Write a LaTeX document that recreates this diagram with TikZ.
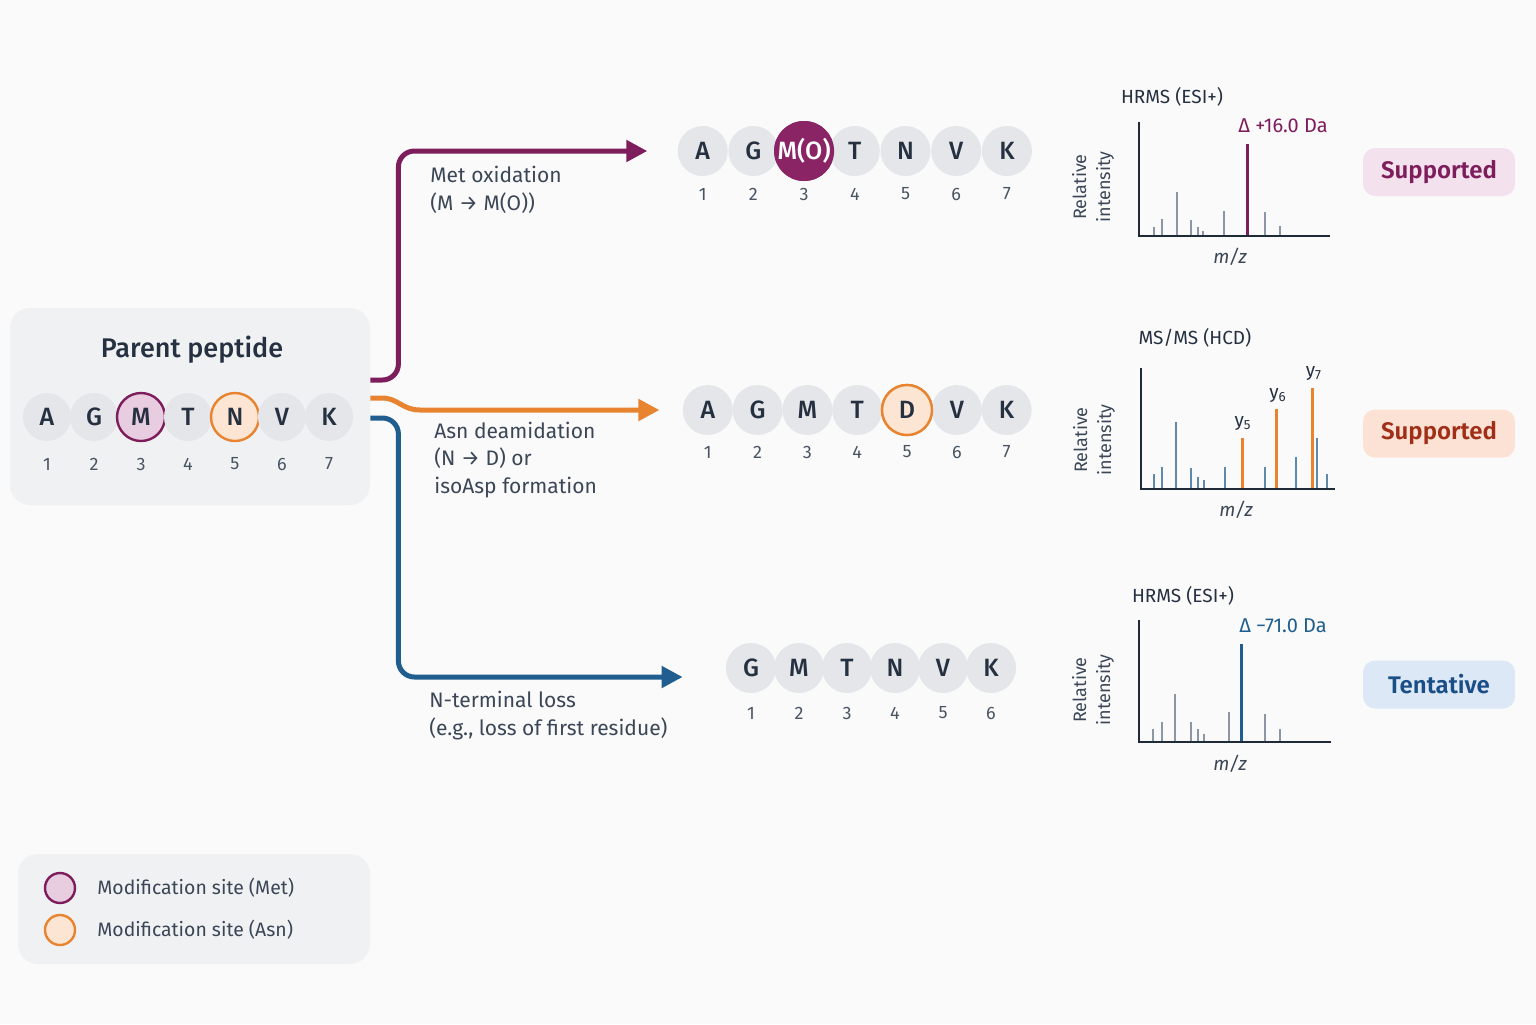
\documentclass[tikz,border=0pt]{standalone}
\usepackage{fontspec}
\setmainfont{Fira Sans}[BoldFont={Fira Sans SemiBold}]
\newfontfamily\medfont{Fira Sans Medium}
\usetikzlibrary{
    arrows.meta,
    calc,
    positioning
}

\definecolor{pagebg}{HTML}{FAFAFB}
\definecolor{panelbg}{HTML}{F0F1F3}
\definecolor{resfill}{HTML}{E4E6E9}
\definecolor{inkdark}{HTML}{253040}
\definecolor{inkgray}{HTML}{4A5563}
\definecolor{inklabel}{HTML}{3B4656}
\definecolor{metpurple}{HTML}{7E1D5B}
\definecolor{metfill}{HTML}{E8CDE0}
\definecolor{metdark}{HTML}{8A2465}
\definecolor{asnorange}{HTML}{E8842F}
\definecolor{asnfill}{HTML}{FDE5D3}
\definecolor{lossblue}{HTML}{1F5E8E}
\definecolor{peakgray}{HTML}{8B97A6}
\definecolor{peakblue}{HTML}{5F8AAB}
\definecolor{axisink}{HTML}{1E2A38}
\definecolor{supfillA}{HTML}{F3E2EE}
\definecolor{supfillB}{HTML}{FBE2D5}
\definecolor{suptextB}{HTML}{A12F17}
\definecolor{tentfill}{HTML}{DCE8F5}
\definecolor{tenttext}{HTML}{1A4E86}

\tikzset{
    panel/.style={fill=panelbg, rounded corners=10pt, inner sep=0pt},
    residue/.style={circle, fill=resfill, minimum size=25pt, inner sep=0pt,
        text=inkdark, font=\medfont\fontsize{12.5}{14}\selectfont},
    metsite/.style={residue, fill=metfill, draw=metpurple, line width=1.2pt},
    asnsite/.style={residue, fill=asnfill, draw=asnorange, line width=1.2pt},
    metdone/.style={residue, fill=metdark, text=white, minimum size=30pt},
    resnum/.style={text=inkgray, font=\fontsize{9}{10}\selectfont},
    steplabel/.style={anchor=west, align=left, inner sep=0pt, text=inklabel,
        font=\fontsize{10.5}{13.75}\selectfont},
    route/.style={line width=2.5pt, rounded corners=8pt,
        -{Triangle[length=10.5pt,width=10.5pt]}},
    spectitle/.style={text=inkdark, font=\fontsize{9.5}{11}\selectfont},
    ylab/.style={rotate=90, align=center, text=inklabel,
        font=\fontsize{9}{12}\selectfont},
    mzlab/.style={text=inklabel, font=\itshape\fontsize{9.5}{11}\selectfont},
    deltalab/.style={font=\fontsize{10}{12}\selectfont},
    ionlab/.style={text=inkdark, font=\fontsize{9.5}{11}\selectfont},
    specaxis/.style={draw=axisink, line width=1.2pt},
    peak/.style={line width=1pt},
    badge/.style={rounded corners=6pt, minimum width=76pt, minimum height=24pt,
        font=\bfseries\fontsize{12}{14}\selectfont}
}

\begin{document}
\begin{tikzpicture}[x=0.5pt, y=-0.5pt]
    % page
    \fill[pagebg] (0,0) rectangle (1536,1024);
    \useasboundingbox (0,0) rectangle (1536,1024);

    % parent peptide panel
    \node[panel, minimum width=180pt, minimum height=98.5pt] (parent) at (190,406.5) {};
    \node[text=inkdark, font=\medfont\fontsize{13.5}{16}\selectfont] (parentTitle) at (192,350) {Parent peptide};
    \foreach \aa/\st [count=\i] in {A/residue,G/residue,M/metsite,T/residue,N/asnsite,V/residue,K/residue} {
        \node[\st, minimum size=24pt] (p\i) at ({47*\i},417) {\aa};
        \node[resnum] (pn\i) at ($(p\i)+(0,47)$) {\i};
    }

    % oxidised product
    \foreach \aa [count=\i] in {A,G,M,T,N,V,K} {
        \ifnum\i=3\relax
            \node[metdone] (a\i) at ({652+50.7*\i},151) {M(O)};
        \else
            \node[residue] (a\i) at ({652+50.7*\i},151) {\aa};
        \fi
        \node[resnum] (an\i) at ($(a\i)+(0,43)$) {\i};
    }
    \node[metdone] at (a3) {M(O)};

    % deamidated product
    \foreach \aa/\st [count=\i] in {A/residue,G/residue,M/residue,T/residue,D/asnsite,V/residue,K/residue} {
        \node[\st] (b\i) at ({658+49.8*\i},410) {\aa};
        \node[resnum] (bn\i) at ($(b\i)+(0,42)$) {\i};
    }
    \node[asnsite] at (b5) {D};

    % truncated product
    \foreach \aa [count=\i] in {G,M,T,N,V,K} {
        \node[residue] (c\i) at ({703+48*\i},668) {\aa};
        \node[resnum] (cn\i) at ($(c\i)+(0,45)$) {\i};
    }

    % routes out of the parent
    \coordinate (metStart) at ([yshift=13.25pt]parent.east);
    \coordinate (asnStart) at ([yshift=4.25pt]parent.east);
    \coordinate (lossStart) at ([yshift=-5.75pt]parent.east);
    \draw[route, metpurple] (metStart) -- ++(28,0) |- ([xshift=-15pt]a1.west);
    \draw[route, asnorange, sharp corners] (asnStart) -- (382,398) .. controls (398,398) and (402,410) .. (420,410) -- ([xshift=-11.5pt]b1.west);
    \draw[route, lossblue] (lossStart) -- ++(28,0) |- ([xshift=-21.5pt,yshift=-4.5pt]c1.west);

    \node[steplabel] (metLabel) at (430,190) {Met oxidation\\(M → M(O))};
    \node[steplabel] (asnLabel) at (434,460) {Asn deamidation\\(N → D) or\\isoAsp formation};
    \node[steplabel] (lossLabel) at (429,715.5) {N-terminal loss\\(e.g., loss of first residue)};

    % spectrum 1: HRMS, +16 Da
    \node[spectitle] (specA) at (1172,97) {HRMS (ESI+)};
    \draw[specaxis] (1139,122) -- (1139,236) -- (1330,236);
    \foreach \px/\py in {1153.7/226.7, 1161.7/219.3, 1177.3/192, 1191/220, 1197.7/227.3,
        1203.3/230.7, 1224.3/210.7, 1264.7/211.7, 1280/226}
        \draw[peak, peakgray] (\px,235) -- (\px,\py);
    \draw[peak, metpurple, line width=1.5pt] (1247.7,235) -- (1247.7,144);
    \node[deltalab, text=metpurple] (deltaA) at (1283,126) {Δ +16.0 Da};
    \node[ylab] (ylabA) at (1093,187) {Relative\\intensity};
    \node[mzlab] (mzA) at (1230,257) {m/z};

    % spectrum 2: MS/MS fragments
    \node[spectitle] (specB) at (1195,338) {MS/MS (HCD)};
    \draw[specaxis] (1141,368) -- (1141,489) -- (1335,489);
    \foreach \px/\py in {1153.7/474.3, 1161.7/467.3, 1175.7/421.7, 1191/467.7, 1197.7/476.7,
        1203.7/480, 1225.3/466.7, 1265/466.7, 1295.7/457.3, 1317.3/437.7, 1327/474}
        \draw[peak, peakblue] (\px,488) -- (\px,\py);
    \foreach \px/\py in {1242.3/437.7, 1276/409.3, 1312.3/388.3}
        \draw[peak, asnorange, line width=1.5pt] (\px,488) -- (\px,\py);
    \node[ionlab] (yfive) at (1243,424) {y\textsubscript{5}};
    \node[ionlab] (ysix) at (1278,396) {y\textsubscript{6}};
    \node[ionlab] (yseven) at (1314,374) {y\textsubscript{7}};
    \node[ylab] (ylabB) at (1094,440) {Relative\\intensity};
    \node[mzlab] (mzB) at (1236,510) {m/z};

    % spectrum 3: HRMS, -71 Da
    \node[spectitle] (specC) at (1183,596) {HRMS (ESI+)};
    \draw[specaxis] (1139,620) -- (1139,742) -- (1331,742);
    \foreach \px/\py in {1153.3/729.3, 1161.7/721.7, 1175.3/694, 1190.7/721.7, 1197.7/729.3,
        1203.7/734, 1229.3/712.3, 1264.7/714, 1280/728.7}
        \draw[peak, peakgray] (\px,741) -- (\px,\py);
    \draw[peak, lossblue, line width=1.5pt] (1241.3,741) -- (1241.3,644.3);
    \node[deltalab, text=lossblue] (deltaC) at (1283,626) {Δ −71.0 Da};
    \node[ylab] (ylabC) at (1093,690) {Relative\\intensity};
    \node[mzlab] (mzC) at (1230,764) {m/z};

    % verdicts
    \node[badge, fill=supfillA, text=metpurple] (verdictA) at (1439,172) {Supported};
    \node[badge, fill=supfillB, text=suptextB] (verdictB) at (1439,433.5) {Supported};
    \node[badge, fill=tentfill, text=tenttext] (verdictC) at (1439,684.5) {Tentative};

    % legend
    \node[panel, minimum width=176pt, minimum height=55pt] (legend) at (194,909) {};
    \node[circle, fill=metfill, draw=metpurple, line width=1.2pt, minimum size=15pt, inner sep=0pt] (keyMet) at (60,888) {};
    \node[circle, fill=asnfill, draw=asnorange, line width=1.2pt, minimum size=15pt, inner sep=0pt] (keyAsn) at (60,930) {};
    \node[steplabel, font=\fontsize{9.7}{12}\selectfont] (keyMetText) at (97,888) {Modification site (Met)};
    \node[steplabel, font=\fontsize{9.7}{12}\selectfont] (keyAsnText) at (97,930) {Modification site (Asn)};
\end{tikzpicture}
\end{document}
